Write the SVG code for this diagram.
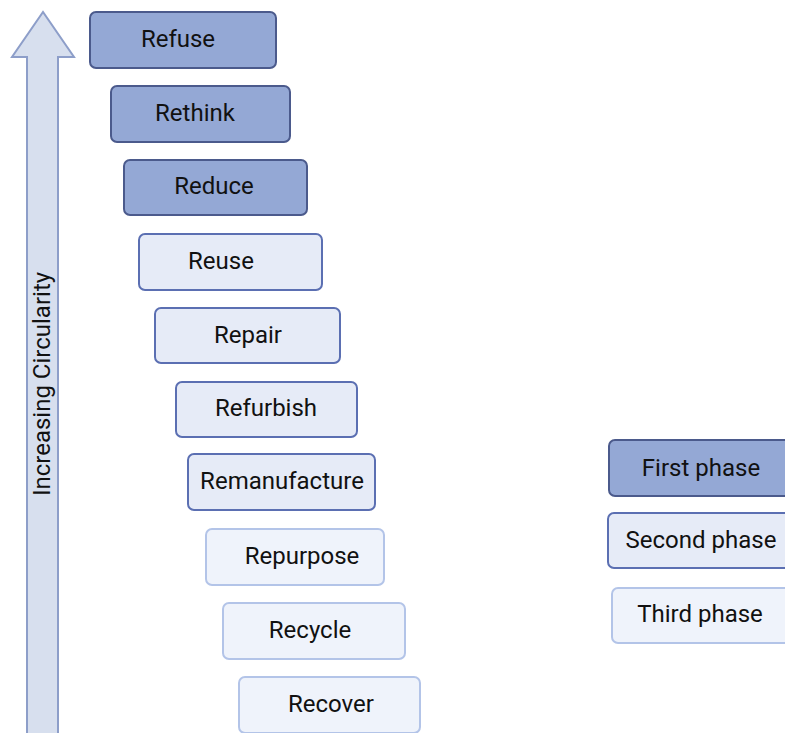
<svg xmlns="http://www.w3.org/2000/svg" width="785" height="733" viewBox="0 0 785 733">
<style>
text{font-family:Roboto,"Liberation Sans",sans-serif;font-size:24px;font-weight:400;fill:#111;text-anchor:middle;dominant-baseline:central}
.p1{fill:#94a8d5;stroke:#4b5a8c;stroke-width:2}
.p2{fill:#e6ebf7;stroke:#5b6fb2;stroke-width:2}
.p3{fill:#eff3fb;stroke:#b3c4e8;stroke-width:2}
</style>
<rect width="785" height="733" fill="#fff"/>
<g id="arrow">
<path d="M27,740 L27,57 L12,57 L43,12 L74,57 L58,57 L58,740 Z" fill="#d7dfee" stroke="#8d9ec9" stroke-width="2"/>
<text transform="translate(42,384) rotate(-90)" font-size="23">Increasing Circularity</text>
</g>
<g id="refuse"><rect class="p1" x="90" y="12" width="186" height="56" rx="6"/><text x="178" y="39">Refuse</text></g>
<g id="rethink"><rect class="p1" x="111" y="86" width="179" height="56" rx="6"/><text x="195" y="113">Rethink</text></g>
<g id="reduce"><rect class="p1" x="124" y="160" width="183" height="55" rx="6"/><text x="214" y="186">Reduce</text></g>
<g id="reuse"><rect class="p2" x="139" y="234" width="183" height="56" rx="6"/><text x="221" y="261">Reuse</text></g>
<g id="repair"><rect class="p2" x="155" y="308" width="185" height="55" rx="6"/><text x="248" y="335">Repair</text></g>
<g id="refurbish"><rect class="p2" x="176" y="382" width="181" height="55" rx="6"/><text x="266" y="408">Refurbish</text></g>
<g id="remanufacture"><rect class="p2" x="188" y="454" width="187" height="56" rx="6"/><text x="282" y="481">Remanufacture</text></g>
<g id="repurpose"><rect class="p3" x="206" y="529" width="178" height="56" rx="6"/><text x="302" y="556">Repurpose</text></g>
<g id="recycle"><rect class="p3" x="223" y="603" width="182" height="56" rx="6"/><text x="310" y="630">Recycle</text></g>
<g id="recover"><rect class="p3" x="239" y="677" width="181" height="56" rx="6"/><text x="331" y="704">Recover</text></g>
<g id="legend-first"><rect class="p1" x="609" y="440" width="190" height="56" rx="6"/><text x="701" y="468">First phase</text></g>
<g id="legend-second"><rect class="p2" x="608" y="513" width="190" height="55" rx="6"/><text x="701" y="540">Second phase</text></g>
<g id="legend-third"><rect class="p3" x="612" y="588" width="190" height="55" rx="6"/><text x="700" y="614">Third phase</text></g>
<g id="connectors"/>
</svg>
